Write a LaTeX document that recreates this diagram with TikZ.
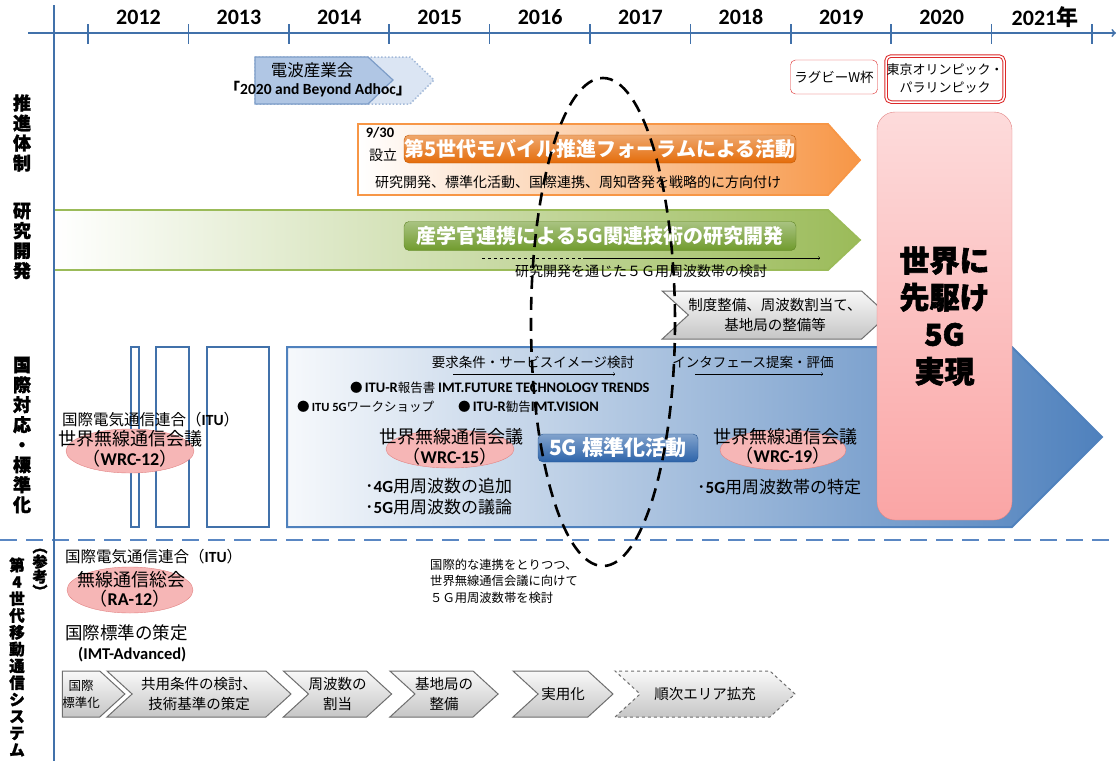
\documentclass[tikz,border=0pt]{standalone}
\usepackage{fontspec}
\setmainfont{Noto Sans CJK JP}
\newfontfamily\lat{Carlito}
\usetikzlibrary{arrows, positioning, shapes.geometric, shapes.symbols}

\definecolor{axisblue}{RGB}{65,113,170}
\definecolor{sepblue}{RGB}{90,135,195}
\definecolor{stdblue}{RGB}{79,129,189}
\definecolor{btnblue}{RGB}{45,100,170}
\definecolor{fororange}{RGB}{247,150,70}
\definecolor{btnorange}{RGB}{228,108,10}
\definecolor{rdgreen}{RGB}{155,187,89}
\definecolor{btngreen}{RGB}{112,155,45}
\definecolor{goalpink}{RGB}{250,165,165}
\definecolor{goalline}{RGB}{225,130,130}
\definecolor{wrcpink}{RGB}{246,182,182}
\definecolor{eventred}{RGB}{220,40,40}
\definecolor{aribblue}{RGB}{176,198,228}
\definecolor{aribline}{RGB}{125,157,200}
\definecolor{chevline}{RGB}{110,110,110}

\newcommand\fsz[2]{\fontsize{#1}{#2}\selectfont}
\newcommand\latb[1]{{\lat\bfseries #1}}
\newcommand\latbb[1]{{\lat\bfseries\fsz{14.5}{14.5}#1}}

\begin{document}
\begin{tikzpicture}[x=1pt, y=-1pt,
	year/.style={font=\lat\bfseries\fsz{22}{22}, inner sep=0pt},
	tick/.style={axisblue, line width=1.5pt},
	side/.style={font=\bfseries\addfontfeature{FakeBold=1.5}\fsz{18}{20}, align=center, inner sep=0pt},
	lbl/.style={font=\fsz{#1}{#1}, inner sep=0pt},
	lbl/.default=14,
	btn/.style={rounded corners=5pt, draw=#1!85!black, top color=#1!60!white, bottom color=#1, text=white, font=\bfseries\fsz{20}{20}, inner sep=0pt, minimum height=28pt},
	wrc/.style={ellipse, draw=goalline, fill=wrcpink, inner sep=0pt},
	chev/.style={signal, signal to=east, signal from=west, signal pointer angle=85, draw=chevline, line width=1pt, top color=gray!5, bottom color=gray!45, align=center, font=\fsz{14.5}{20}, inner sep=0pt, minimum height=46pt},
	event/.style={rounded corners=5pt, draw=eventred, align=center, inner sep=0pt},
	goal/.style={rectangle, rounded corners=18pt, draw=goalline, top color=goalpink!40, bottom color=goalpink, align=center, font=\bfseries\addfontfeature{FakeBold=2}\fsz{30}{37}},
]
	\useasboundingbox (0,0) rectangle (1117,761);

	% bands
	\path[draw=fororange, line width=1.8pt, left color=white, right color=fororange] (358,124) -- (828,124) -- (860,160) -- (828,195) -- (358,195) -- cycle;
	\path[draw=rdgreen, line width=1.8pt, left color=white, right color=rdgreen] (54,210) -- (828,210) -- (860,240) -- (828,270) -- (54,270) -- cycle;
	\path[draw=stdblue, line width=2pt, left color=stdblue!5, right color=stdblue] (287,347) -- (1012,347) -- (1102,437) -- (1012,527) -- (287,527) -- cycle;
	\draw[axisblue, line width=1.5pt] (131,347) rectangle (139,527) (156,347) rectangle (189,527) (207,347) rectangle (269,527);

	% ARIB adhoc
	\path[draw=aribline!70, fill=aribblue!45, line width=1.5pt, dotted] (255,57) -- (410,57) -- (434,80) -- (410,104) -- (255,104) -- cycle;
	\path[draw=aribline, fill=aribblue, line width=1.2pt] (255,57) -- (368,57) -- (393,80) -- (368,104) -- (255,104) -- cycle;
	\node[lbl=16.5] (arib) at (312,70) {電波産業会};
	\node[font=\lat\bfseries\fsz{15.5}{16}, inner sep=0pt] (adhoc) at (318,89) {{\rmfamily 「}2020 and Beyond Adhoc{\rmfamily 」}};

	% events
	\node[event, minimum width=87pt, minimum height=34pt, font=\fsz{13.5}{14}] (rugby) at (834,77) {ラグビーW杯};
	\node[event, double, double distance=1.5pt, line width=1pt, minimum width=118pt, minimum height=46pt, font=\fsz{13}{18}] (olympic) at (945,79) {東京オリンピック・\\パラリンピック};

	% forum
	\node[font=\lat\bfseries\fsz{14.5}{15}, inner sep=0pt] (date) at (380,133) {9/30};
	\node[lbl=14] (est) at (383,155) {設立};
	\node[btn=btnorange, minimum width=392pt] (forum) at (600,149) {第5世代モバイル推進フォーラムによる活動};
	\node[lbl=14] (forum sub) at (578,182) {研究開発、標準化活動、国際連携、周知啓発を戦略的に方向付け};

	% research
	\node[btn=btngreen, minimum width=392pt, minimum height=29pt] (rd) at (600,236) {産学官連携による5G関連技術の研究開発};
	\coordinate (rd dash) at (482,258);
	\coordinate (rd mid) at (583,258);
	\coordinate (rd end) at (820,258);
	\draw[dashed] (rd dash) -- (rd mid);
	\draw[->] (rd mid) -- (rd end);
	\node[lbl=14] (rd sub) at (641,271) {研究開発を通じた５Ｇ用周波数帯の検討};

	\node[chev, minimum width=196pt, minimum height=48pt] (policy) at (775,315) {制度整備、周波数割当て、\\基地局の整備等};

	% goal
	\node[goal, minimum width=135pt, minimum height=408pt] (goal) at (944.5,316) {世界に\\先駆け\\5G\\実現};

	% standardisation
	\node[lbl=13.5] (req) at (533,362) {要求条件・サービスイメージ検討};
	\coordinate (req s) at (453,374);
	\coordinate (req e) at (615,374);
	\draw[->] (req s) -- (req e);
	\node[lbl=13.5] (iface) at (753,362) {インタフェース提案・評価};
	\coordinate (iface s) at (695,374);
	\coordinate (iface e) at (823,374);
	\draw[->] (iface s) -- (iface e);
	\node[lbl=12.5, anchor=west] (trends) at (350,388) {●\,\latbb{ITU-R}報告書 \latbb{IMT.FUTURE TECHNOLOGY TRENDS}};
	\node[lbl=12.5, anchor=west] (wshop) at (297,407) {●\,\latb{ITU 5G}ワークショップ};
	\node[lbl=12.5, anchor=west] (vision) at (458,407) {●\,\latbb{ITU-R}勧告\latbb{IMT.VISION}};

	\node[wrc, minimum width=128pt, minimum height=38pt] (wrc15) at (450,449) {};
	\node[lbl=18] (wrc15 t) at (451,437) {世界無線通信会議};
	\node[lbl=18] (wrc15 n) at (450,457) {（\latb{WRC-15}）};
	\node[btn=btnblue, minimum width=160pt, font=\bfseries\fsz{21}{21}] (std) at (618,448) {5G 標準化活動};
	\node[wrc, minimum width=126pt, minimum height=40pt] (wrc19) at (783,450) {};
	\node[lbl=18] (wrc19 t) at (785,437) {世界無線通信会議};
	\node[lbl=18] (wrc19 n) at (783,456) {（\latb{WRC-19}）};
	\node[font=\fsz{17}{21}, anchor=west, align=left, inner sep=0pt] (wrc15 note) at (365,497) {･\latb{4G}用周波数の追加\\･\latb{5G}用周波数の議論};
	\node[font=\fsz{17}{21}, anchor=west, inner sep=0pt] (wrc19 note) at (697,487) {･\latb{5G}用周波数帯の特定};

	\node[lbl=15.5, anchor=west] (itu a) at (62,420) {国際電気通信連合（\latb{ITU}）};
	\node[wrc, minimum width=128pt, minimum height=44pt] (wrc12) at (130,451) {};
	\node[lbl=18, anchor=west] (wrc12 t) at (58,439) {世界無線通信会議};
	\node[lbl=18] (wrc12 n) at (130,459) {（\latb{WRC-12}）};

	% 4G reference
	\node[lbl=15.5, anchor=west] (itu b) at (65,557) {国際電気通信連合（\latb{ITU}）};
	\node[wrc, minimum width=126pt, minimum height=46pt] (ra12) at (130,590) {};
	\node[lbl=18] (ra12 t) at (131,580) {無線通信総会};
	\node[lbl=18] (ra12 n) at (130,599) {（\latb{RA-12}）};
	\node[lbl=17.5, anchor=west] (imt) at (65,633) {国際標準の策定};
	\node[font=\lat\bfseries\fsz{16.5}{17}, anchor=west, inner sep=0pt] (imt adv) at (78,655) {(IMT-Advanced)};
	\node[font=\fsz{12.3}{16.5}, anchor=west, align=left, inner sep=0pt] (coop) at (430,581) {国際的な連携をとりつつ、\\世界無線通信会議に向けて\\５Ｇ用周波数帯を検討};

	\node[chev, signal from=nowhere, minimum width=52pt, font=\fsz{12.5}{17}] (c1) at (81,694) {国際\\標準化};
	\node[chev, minimum width=184pt] (c2) at (199,694) {共用条件の検討、\\技術基準の策定};
	\node[chev, minimum width=97pt] (c3) at (337.5,694) {周波数の\\割当};
	\node[chev, minimum width=108pt] (c4) at (444,694) {基地局の\\整備};
	\node[chev, minimum width=100pt] (c5) at (563,694) {実用化};
	\node[chev, dashed, minimum width=180pt] (c6) at (705,694) {順次エリア拡充};

	% axes
	\draw[sepblue, line width=2.5pt, dash pattern=on 17pt off 9pt] (0,540) -- (1117,540);
	\draw[axisblue, line width=1.8pt, ->] (28,33) -- (1116,33);
	\draw[axisblue, line width=2pt] (54,5) -- (54,761);
	\foreach \i in {0,...,10}
		\draw[tick] ({88+100.4*\i},24) -- ({88+100.4*\i},44);
	\foreach \yr [count=\i from 0] in {2012,...,2020}
		\node[year] (y\yr) at ({138.5+100.4*\i},17) {\yr};
	\node[year] (y2021) at (1045,17) {2021{\rmfamily 年}};

	\node[side] (lab promo) at (22,133) {推\\進\\体\\制};
	\node[side] (lab rd) at (22,241) {研\\究\\開\\発};
	\node[side] (lab std) at (22,435) {国\\際\\対\\応\\・\\標\\準\\化};
	\node[side, font=\bfseries\addfontfeature{FakeBold=1.5}\fsz{15}{15}] (lab ref) at (40,573) {︵\\参\\考\\︶};
	\node[side, font=\bfseries\addfontfeature{FakeBold=1.5}\fsz{15.5}{16.8}] (lab 4g) at (17,657) {第\\4\\世\\代\\移\\動\\通\\信\\シ\\ス\\テ\\ム};

	% focus
	\draw[line width=2.6pt, dash pattern=on 13pt off 8pt] (603,322) ellipse [x radius=72, y radius=244];
\end{tikzpicture}
\end{document}
